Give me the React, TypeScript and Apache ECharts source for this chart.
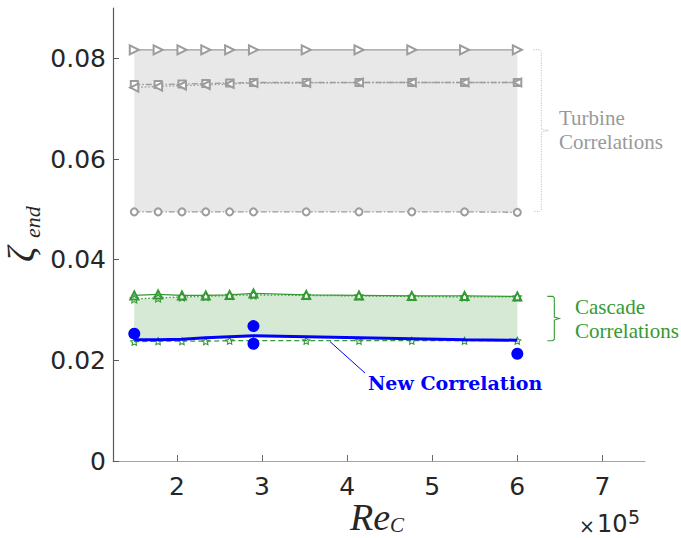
import React, { useEffect, useRef } from "react";
import * as echarts from "echarts";

// Re_C in units of 10^5
const reC = [1.5, 1.78, 2.06, 2.34, 2.62, 2.9, 3.52, 4.14, 4.76, 5.38, 6.0];

// Turbine correlations (grey)
const turbineTriRight = [0.0817, 0.0817, 0.0817, 0.0817, 0.0817, 0.0817, 0.0817, 0.0817, 0.0817, 0.0817, 0.0817];
const turbineSquare = [0.0748, 0.0748, 0.0749, 0.075, 0.0751, 0.0752, 0.0752, 0.0752, 0.0752, 0.0752, 0.0752];
const turbineTriLeft = [0.0742, 0.0744, 0.0746, 0.0747, 0.0749, 0.0751, 0.0751, 0.0752, 0.0752, 0.0752, 0.0752];
const turbineCircle = [0.0495, 0.0495, 0.0495, 0.0495, 0.0495, 0.0495, 0.0495, 0.0495, 0.0495, 0.0495, 0.0494];

// Cascade correlations (green)
const cascadeTri = [0.0329, 0.0331, 0.0329, 0.0329, 0.033, 0.0333, 0.033, 0.0329, 0.0328, 0.0328, 0.0327];
const cascadeStar = [0.0322, 0.0324, 0.0326, 0.0327, 0.0329, 0.033, 0.0329, 0.0328, 0.0327, 0.0326, 0.0326];
const cascadeLow = [0.0237, 0.0238, 0.0238, 0.0238, 0.0239, 0.0239, 0.0239, 0.0239, 0.0239, 0.0239, 0.0239];

// New correlation (blue line)
const newCorrelation = [0.0241, 0.0241, 0.0242, 0.0245, 0.0247, 0.0249, 0.0247, 0.0245, 0.0243, 0.0241, 0.024];

// Measured points (blue dots)
const expRe = [1.5, 2.9, 2.9, 6.0];
const expZeta = [0.0253, 0.0268, 0.0233, 0.0213];

const xTicks = [2, 3, 4, 5, 6, 7];
const yTicks = [0, 0.02, 0.04, 0.06, 0.08];

const GRAY = "#9c9c9c";
const GREEN = "#349a34";
const BLUE = "#0000ff";
const STAR =
  "path://M0,-10L2.94,-4.05L9.51,-3.09L4.76,1.55L5.88,8.09L0,5L-5.88,8.09L-4.76,1.55L-9.51,-3.09L-2.94,-4.05Z";

const pairs = (xs: number[], ys: number[]) => xs.map((x, i) => [x, ys[i]]);

const band = (upper: number[], lower: number[], color: string) => ({
  type: "custom",
  silent: true,
  z: 1,
  data: reC.map((x, i) => [x, upper[i], lower[i]]),
  encode: { x: 0, y: [1, 2] },
  renderItem: (params: any, api: any) => {
    if (params.dataIndex !== 0) return null;
    const top = upper.map((v, i) => api.coord([reC[i], v]));
    const bot = lower.map((v, i) => api.coord([reC[i], v])).reverse();
    return {
      type: "polygon",
      shape: { points: top.concat(bot) },
      style: { fill: color, stroke: null },
    };
  },
});

export default function App() {
  const ref = useRef<HTMLDivElement>(null);

  useEffect(() => {
    if (!ref.current) return;
    const chart = echarts.init(ref.current, undefined, { renderer: "svg" });

    const option: any = {
      animation: false,
      backgroundColor: "#ffffff",
      grid: { left: 113, right: 36, top: 8, bottom: 77, containLabel: false },
      xAxis: {
        type: "value",
        min: 1.25,
        max: 7.5,
        axisLine: { show: true, lineStyle: { color: "#a3a3a3", width: 1.2 } },
        axisTick: { show: true, inside: true, length: 6, customValues: xTicks, lineStyle: { color: "#6a6a6a" } },
        axisLabel: {
          customValues: xTicks,
          margin: 13,
          fontFamily: "DejaVu Sans",
          fontSize: 25,
          color: "#262626",
          formatter: (v: number) => String(v),
        },
        splitLine: { show: false },
      },
      yAxis: {
        type: "value",
        min: 0,
        max: 0.09,
        axisLine: { show: true, lineStyle: { color: "#5a5a5a", width: 1.2 } },
        axisTick: { show: true, inside: true, length: 6, customValues: yTicks, lineStyle: { color: "#5a5a5a" } },
        axisLabel: {
          customValues: yTicks,
          margin: 7,
          fontFamily: "DejaVu Sans",
          fontSize: 25,
          color: "#262626",
          formatter: (v: number) => (v === 0 ? "0" : v.toFixed(2)),
        },
        splitLine: { show: false },
      },
      series: [
        band(turbineTriRight, turbineCircle, "#e8e8e8"),
        band(cascadeStar, newCorrelation, "#d6e9d5"),
        {
          type: "line", name: "Turbine 1", data: pairs(reC, turbineTriRight),
          symbol: "emptyTriangle", symbolSize: 9, symbolRotate: -90,
          itemStyle: { color: GRAY, borderWidth: 1.2 }, lineStyle: { color: GRAY, width: 1.3 },
        },
        {
          type: "line", name: "Turbine 2", data: pairs(reC, turbineSquare),
          symbol: "emptyRect", symbolSize: 7,
          itemStyle: { color: GRAY, borderWidth: 1.2 }, lineStyle: { color: GRAY, width: 1.3, type: [6, 2, 1.5, 2] },
        },
        {
          type: "line", name: "Turbine 3", data: pairs(reC, turbineTriLeft),
          symbol: "emptyTriangle", symbolSize: 8, symbolRotate: 90,
          itemStyle: { color: GRAY, borderWidth: 1.2 }, lineStyle: { color: GRAY, width: 1.3, type: [1.5, 2] },
        },
        {
          type: "line", name: "Turbine 4", data: pairs(reC, turbineCircle),
          symbol: "emptyCircle", symbolSize: 7,
          itemStyle: { color: GRAY, borderWidth: 1.2 }, lineStyle: { color: GRAY, width: 1.3, type: [6, 2, 1.5, 2] },
        },
        {
          type: "line", name: "Cascade 1", data: pairs(reC, cascadeTri),
          symbol: "emptyTriangle", symbolSize: 8,
          itemStyle: { color: GREEN, borderWidth: 1.2 }, lineStyle: { color: GREEN, width: 1.3 },
        },
        {
          type: "line", name: "Cascade 2", data: pairs(reC, cascadeStar),
          symbol: STAR, symbolSize: 8,
          itemStyle: { color: "rgba(0,0,0,0)", borderColor: GREEN, borderWidth: 1.1 },
          lineStyle: { color: GREEN, width: 1.3, type: [1.5, 2] },
        },
        {
          type: "line", name: "Cascade 3", data: pairs(reC, cascadeLow),
          symbol: STAR, symbolSize: 7,
          itemStyle: { color: "rgba(0,0,0,0)", borderColor: GREEN, borderWidth: 1.1 },
          lineStyle: { color: GREEN, width: 1.3, type: [5, 3] },
        },
        {
          type: "line", name: "New Correlation", data: pairs(reC, newCorrelation),
          symbol: "none", lineStyle: { color: BLUE, width: 3 }, z: 5,
        },
        {
          type: "scatter", name: "Measured", data: pairs(expRe, expZeta),
          symbol: "circle", symbolSize: 12, itemStyle: { color: BLUE, opacity: 1 }, z: 6,
        },
      ],
    };
    chart.setOption(option);

    const px = (x: number, y: number) => chart.convertToPixel({ gridIndex: 0 } as any, [x, y]) as number[];
    const last = reC.length - 1;
    const tTop = px(reC[last], turbineTriRight[last]);
    const tBot = px(reC[last], turbineCircle[last]);
    const cTop = px(reC[last], cascadeTri[last]);
    const cBot = px(reC[last], cascadeLow[last]);

    const brace = (xv: number, top: number, bot: number, hook: number, notch: number) => {
      const mid = (top + bot) / 2;
      return [
        [xv - hook, top],
        [xv - 1.5, top],
        [xv, top + 1.5],
        [xv, mid - 1.5],
        [xv + notch, mid],
        [xv, mid + 1.5],
        [xv, bot - 1.5],
        [xv - 1.5, bot],
        [xv - hook, bot],
      ];
    };

    const tx = tTop[0] + 24;
    const cx = cTop[0] + 37;
    const lead = px(3.8, newCorrelation[7]);
    const Z = 100;

    chart.setOption({
      graphic: [
        {
          type: "polyline", silent: true, z: Z,
          shape: { points: brace(tx, tTop[1], tBot[1] - 1, 8, 7) },
          style: { stroke: "#b5b5b5", lineWidth: 1, lineDash: [1, 1.5], fill: null },
        },
        {
          type: "polyline", silent: true, z: Z,
          shape: { points: brace(cx, cTop[1], cBot[1], 7, 5) },
          style: { stroke: GREEN, lineWidth: 1.1, fill: null },
        },
        {
          type: "text", x: 559, y: 118, z: Z,
          style: { text: "Turbine", font: "21px 'Liberation Serif'", fill: "#999999", textVerticalAlign: "middle" },
        },
        {
          type: "text", x: 559, y: 142, z: Z,
          style: { text: "Correlations", font: "21px 'Liberation Serif'", fill: "#999999", textVerticalAlign: "middle" },
        },
        {
          type: "text", x: 575, y: 307, z: Z,
          style: { text: "Cascade", font: "21px 'Liberation Serif'", fill: GREEN, textVerticalAlign: "middle" },
        },
        {
          type: "text", x: 575, y: 331, z: Z,
          style: { text: "Correlations", font: "21px 'Liberation Serif'", fill: GREEN, textVerticalAlign: "middle" },
        },
        {
          type: "line", silent: true, z: Z,
          shape: { x1: lead[0], y1: lead[1] + 4, x2: 365, y2: 373 },
          style: { stroke: BLUE, lineWidth: 1 },
        },
        {
          type: "text", x: 368, y: 383, z: Z,
          style: { text: "New Correlation", font: "bold 19px 'DejaVu Serif'", fill: BLUE, textVerticalAlign: "middle" },
        },
        // y axis name: zeta_end
        {
          type: "group", x: 21, y: 262, rotation: Math.PI / 2, z: Z,
          children: [
            {
              type: "text", x: 0, y: 0, z: Z,
              style: { text: "ζ", font: "italic 38px 'Liberation Serif'", fill: "#262626", textVerticalAlign: "middle" },
            },
            {
              type: "text", x: 24, y: 11, z: Z,
              style: { text: "end", font: "italic 22px 'Liberation Serif'", fill: "#262626", textVerticalAlign: "middle" },
            },
          ],
        },
        // x axis name: Re_C
        {
          type: "text", x: 350, y: 517, z: Z,
          style: { text: "Re", font: "italic 38px 'Liberation Serif'", fill: "#262626", textVerticalAlign: "middle" },
        },
        {
          type: "text", x: 390, y: 525, z: Z,
          style: { text: "C", font: "italic 21px 'Liberation Serif'", fill: "#262626", textVerticalAlign: "middle" },
        },
        // exponent
        {
          type: "text", x: 579, y: 526, z: Z,
          style: { text: "×", font: "19px 'DejaVu Sans'", fill: "#262626", textVerticalAlign: "middle" },
        },
        {
          type: "text", x: 597, y: 524, z: Z,
          style: { text: "10", font: "24px 'DejaVu Sans'", fill: "#262626", textVerticalAlign: "middle" },
        },
        {
          type: "text", x: 628, y: 517, z: Z,
          style: { text: "5", font: "19px 'DejaVu Sans'", fill: "#262626", textVerticalAlign: "middle" },
        },
      ],
    });

    return () => chart.dispose();
  }, []);

  return (
    <div
      ref={ref}
      style={{ position: "absolute", left: 0, top: 0, width: 681, height: 538, background: "#fff" }}
    />
  );
}
